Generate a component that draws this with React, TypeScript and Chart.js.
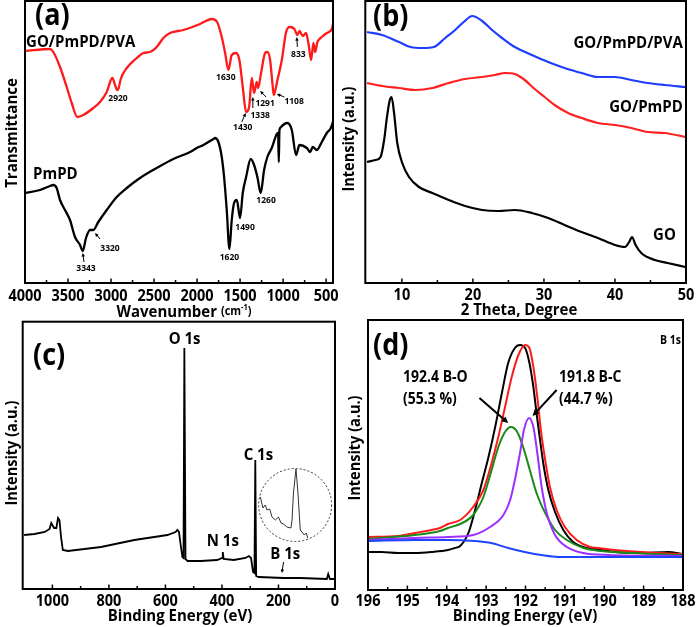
import React, { useEffect, useRef } from "react";
import { Chart, registerables } from "chart.js";
Chart.register(...registerables);

const FONT = "'Open Sans', 'Noto Sans', sans-serif";
const STRETCH = 1.1; // glyphs of the reference are a little taller than the substitute font

// ---------- (a) FTIR : [wavenumber, transmittance a.u.] ----------
const ftirPva: [number, number][] = [
  [4000, 232], [3709, 234], [3671, 231], [3593, 216], [3515, 196], [3457, 180], [3392, 166], [3322, 168],
  [3206, 175], [3128, 181], [3050, 191], [2985, 205], [2953, 198], [2930, 193], [2911, 195], [2887, 204],
  [2817, 215], [2701, 225], [2624, 230], [2547, 231], [2469, 236], [2392, 245], [2314, 250], [2159, 253],
  [1965, 259], [1829, 264], [1767, 261], [1713, 246], [1674, 230], [1636, 213], [1597, 228], [1547, 230],
  [1508, 223], [1469, 196], [1430, 171], [1395, 176], [1364, 205], [1338, 190], [1306, 201], [1291, 195],
  [1256, 210], [1209, 230], [1183, 231], [1151, 223], [1120, 196], [1108, 188], [1066, 203], [1015, 223],
  [965, 251], [919, 256], [869, 254], [833, 248], [810, 252], [771, 247], [733, 250], [706, 240],
  [674, 223], [648, 240], [628, 231], [601, 241], [550, 246], [492, 250], [434, 254], [403, 266],
];
const ftirPmpd: [number, number][] = [
  [4000, 90], [3826, 93], [3709, 97], [3671, 98], [3632, 95], [3593, 83], [3535, 73], [3477, 63],
  [3419, 46], [3360, 38], [3329, 32], [3291, 45], [3244, 53], [3206, 53], [3148, 61], [3050, 73],
  [2934, 86], [2817, 95], [2663, 105], [2469, 115], [2276, 124], [2081, 131], [2003, 135], [1927, 138],
  [1810, 144], [1791, 145], [1752, 141], [1713, 126], [1686, 106], [1655, 73], [1624, 34], [1597, 63],
  [1570, 80], [1538, 83], [1500, 65], [1469, 90], [1430, 106], [1376, 124], [1337, 118], [1299, 106],
  [1260, 90], [1221, 113], [1183, 126], [1132, 135], [1074, 149], [1058, 150], [1050, 121], [1043, 152],
  [1035, 155], [950, 160], [899, 153], [849, 128], [810, 138], [724, 135], [686, 131], [655, 136],
  [608, 133], [550, 141], [492, 150], [445, 155], [407, 165],
];
const ftirTickLabels = [4000, 3500, 3000, 2500, 2000, 1500, 1000, 500];
const ftirMinorTicks = [3750, 3250, 2750, 2250, 1750, 1250, 750];
// peak annotations: [text, wavenumber, y]
const ftirPeakTexts: [string, number, number][] = [
  ["2920", 2919, 185], ["1630", 1666, 206], ["1430", 1469, 156], ["1338", 1267, 168],
  ["1291", 1209, 180], ["1108", 872, 182], ["833", 822, 229], ["3343", 3291, 15],
  ["3320", 3012, 35], ["1620", 1624, 26], ["1490", 1442, 56], ["1260", 1198, 83],
];
// arrows: [x1, y1, x2, y2]
const ftirArrows: [number, number, number, number][] = [
  [1481, 161, 1434, 170], [1352, 175, 1352, 186], [1198, 186, 1267, 192], [985, 186, 1073, 189],
  [834, 236, 841, 246], [3314, 21, 3329, 30], [3128, 44, 3186, 50],
];

// ---------- (b) XRD : [2theta, intensity] ----------
const xrdPva: [number, number][] = [
  [5.1, 251], [7.2, 248], [9.6, 241], [11.2, 236], [12.9, 235], [14.5, 236], [16.1, 245], [17.5, 253],
  [18.7, 261], [19.9, 267], [21.3, 262], [22.7, 253], [24.1, 245], [25.9, 236], [28.3, 228], [30.6, 221],
  [32.9, 215], [35.3, 210], [37.6, 206], [40, 206], [42.3, 203], [44.6, 200], [47, 198], [49.9, 196],
];
const xrdPmpd: [number, number][] = [
  [5.1, 200], [7.2, 197], [9.6, 195], [11.9, 193], [14.3, 195], [16.6, 200], [18.9, 204], [21.3, 206],
  [23.1, 208], [24.5, 210], [25.9, 209], [27.3, 203], [28.7, 194], [30.1, 186], [31.5, 178], [33.4, 170],
  [35.3, 165], [37.6, 160], [40, 158], [42.3, 155], [44.6, 151], [47, 150], [49.9, 146],
];
const xrdGo: [number, number][] = [
  [5.1, 121], [6.3, 123], [7.0, 126], [7.5, 143], [7.9, 166], [8.3, 183], [8.55, 186], [8.9, 170],
  [9.35, 140], [10.05, 120], [11, 106], [12.4, 96], [14.3, 90], [16.6, 83], [18.9, 77], [21.3, 73],
  [23.6, 72], [25.9, 73], [28.3, 70], [30.6, 65], [32.9, 58], [35.3, 51], [37.6, 45], [40, 38],
  [41.4, 36], [42, 41], [42.4, 46], [42.9, 38], [43.7, 30], [45.6, 23], [47.4, 20], [49.9, 16],
];
const xrdTickLabels = [10, 20, 30, 40, 50];
const xrdMinorTicks = [15, 25, 35, 45];
const xrdSeriesTexts: [string, number, number][] = [
  ["GO/PmPD/PVA", 49.56, 240], ["GO/PmPD", 49.56, 176], ["GO", 48.58, 48],
];

// ---------- (c) XPS survey : [binding energy, intensity] ----------
const survey: [number, number][] = [
  [1100, 54], [1063, 55], [1027, 57], [1010, 60], [1004, 66], [994, 61], [986, 61], [980, 71],
  [975, 69], [969, 51], [963, 39], [945, 38], [828, 42], [710, 49], [593, 54], [564, 57],
  [558, 59], [552, 57], [546, 44], [540, 32], [536, 31], [533, 241], [529, 30], [522, 28],
  [475, 28], [417, 29], [399, 31], [397, 37], [394, 30], [358, 29], [317, 31], [305, 33],
  [297, 31], [290, 17], [285, 16], [282, 129], [279, 13], [270, 12], [182, 11], [123, 11],
  [29, 10], [24, 15], [18, 10], [0, 10],
];
const surveyInset: [number, number][] = [
  [264, 92], [255, 81], [247, 84], [241, 79], [231, 80], [223, 72], [211, 69], [200, 72],
  [191, 66], [182, 65], [170, 62], [156, 61], [152, 69], [147, 96], [138, 120], [131, 96],
  [123, 59], [117, 57], [109, 54], [102, 56], [96, 51],
];
const surveyTickLabels = [1000, 800, 600, 400, 200, 0];
const surveyMinorTicks = [900, 700, 500, 300, 100];
const surveyPeakTexts: [string, number, number][] = [
  ["O 1s", 532, 250], ["C 1s", 271, 134], ["N 1s", 397, 48], ["B 1s", 176, 35],
];
const surveyArrows: [number, number, number, number][] = [[182, 27, 188, 16]];

// ---------- (d) B 1s : [binding energy, intensity] ----------
const b1sRaw: [number, number][] = [
  [196, 38], [195.66, 38], [195.24, 37], [194.81, 37], [194.39, 38], [193.97, 40], [193.8, 42], [193.66, 44],
  [193.45, 57], [193.28, 80], [193.11, 107], [192.94, 133], [192.77, 163], [192.6, 197], [192.44, 227],
  [192.27, 242], [192.14, 245], [192.01, 242], [191.9, 227], [191.8, 203], [191.72, 177], [191.63, 150],
  [191.55, 127], [191.42, 100], [191.25, 78], [191.04, 60], [190.79, 48], [190.45, 42], [190.24, 41],
  [189.73, 38], [189.06, 37], [188.38, 38], [188, 36],
];
const b1sFit: [number, number][] = [
  [196, 53], [195.24, 54], [194.81, 57], [194.39, 60], [194.17, 62], [193.97, 66], [193.66, 70], [193.33, 83],
  [193.07, 100], [192.86, 127], [192.69, 153], [192.52, 183], [192.35, 213], [192.18, 235], [192.01, 245],
  [191.9, 242], [191.8, 223], [191.7, 193], [191.61, 160], [191.5, 130], [191.38, 103], [191.21, 80],
  [191, 63], [190.7, 50], [190.36, 43], [190.16, 42], [189.73, 40], [189.06, 38], [188, 36],
];
const b1sBO: [number, number][] = [
  [196, 51], [194.81, 55], [194.17, 59], [193.97, 62], [193.66, 66], [193.33, 75], [193.07, 93], [192.86, 120],
  [192.69, 143], [192.52, 158], [192.37, 163], [192.21, 158], [192.06, 143], [191.89, 120], [191.72, 97],
  [191.5, 77], [191.25, 60], [190.95, 50], [190.53, 42], [190.07, 39], [189.31, 37], [188, 35],
];
const b1sBC: [number, number][] = [
  [196, 50], [194.81, 52], [193.97, 53], [193.33, 55], [192.9, 63], [192.56, 75], [192.39, 90], [192.27, 110],
  [192.14, 137], [192.04, 160], [191.91, 172], [191.8, 163], [191.7, 137], [191.59, 103], [191.46, 77],
  [191.25, 55], [190.95, 43], [190.53, 37], [189.9, 35], [188, 34],
];
const b1sBackground: [number, number][] = [
  [196, 49], [194.81, 50], [193.97, 50], [193.29, 49], [192.87, 47], [192.44, 42], [192.02, 38],
  [191.6, 35], [191.17, 33], [190.58, 33], [188, 33],
];
const b1sTickLabels = [196, 195, 194, 193, 192, 191, 190, 189, 188];
const b1sMinorTicks = [195.5, 194.5, 193.5, 192.5, 191.5, 190.5, 189.5, 188.5];
const b1sTexts: [string, number, number][] = [
  ["192.4 B-O", 195.11, 212], ["(55.3 %)", 195.11, 190], ["191.8 B-C", 191.15, 212], ["(44.7 %)", 191.15, 190],
];
const b1sArrows: [number, number, number, number][] = [
  [193.17, 192, 192.44, 167], [191.21, 200, 191.82, 174],
];

// ---------- drawing helpers ----------
interface Part { t: string; size: number; dy?: number }
interface Label { parts: Part[]; x: number; y: number; align?: "left" | "center" | "right"; data?: boolean; rot?: boolean; color?: string }

function txt(t: string, size: number, x: number, y: number, extra: Partial<Label> = {}): Label {
  return { parts: [{ t, size }], x, y, ...extra };
}

function drawLabel(ctx: CanvasRenderingContext2D, chart: any, L: Label) {
  let x = L.x, y = L.y;
  if (L.data) {
    x = chart.scales.x.getPixelForValue(L.x);
    y = chart.scales.y.getPixelForValue(L.y);
  }
  ctx.save();
  ctx.translate(x, y);
  if (L.rot) ctx.rotate(-Math.PI / 2);
  ctx.scale(1, STRETCH);
  const widths = L.parts.map((p) => {
    ctx.font = `bold ${p.size}px ${FONT}`;
    return ctx.measureText(p.t).width;
  });
  const total = widths.reduce((a, b) => a + b, 0);
  let cx = L.align === "left" ? 0 : L.align === "right" ? -total : -total / 2;
  ctx.textBaseline = "middle";
  ctx.textAlign = "left";
  ctx.fillStyle = L.color || "#000";
  L.parts.forEach((p, i) => {
    ctx.font = `bold ${p.size}px ${FONT}`;
    ctx.fillText(p.t, cx, p.dy || 0);
    cx += widths[i];
  });
  ctx.restore();
}

function drawArrow(ctx: CanvasRenderingContext2D, chart: any, a: number[], width: number, head: number) {
  const xs = chart.scales.x, ys = chart.scales.y;
  const x1 = xs.getPixelForValue(a[0]), y1 = ys.getPixelForValue(a[1]);
  const x2 = xs.getPixelForValue(a[2]), y2 = ys.getPixelForValue(a[3]);
  const ang = Math.atan2(y2 - y1, x2 - x1);
  ctx.save();
  ctx.strokeStyle = "#000";
  ctx.fillStyle = "#000";
  ctx.lineWidth = width;
  ctx.beginPath();
  ctx.moveTo(x1, y1);
  ctx.lineTo(x2 - Math.cos(ang) * head * 0.6, y2 - Math.sin(ang) * head * 0.6);
  ctx.stroke();
  ctx.beginPath();
  ctx.moveTo(x2, y2);
  ctx.lineTo(x2 - Math.cos(ang - 0.45) * head, y2 - Math.sin(ang - 0.45) * head);
  ctx.lineTo(x2 - Math.cos(ang + 0.45) * head, y2 - Math.sin(ang + 0.45) * head);
  ctx.closePath();
  ctx.fill();
  ctx.restore();
}

interface Series { pts: [number, number][]; color: string; width: number; tension?: number }
interface PanelSpec {
  left: number; top: number; w: number; h: number;
  pad: { left: number; top: number; right: number; bottom: number };
  yW: number; xH: number; tickOffset: number;
  xMin: number; xMax: number; reverse: boolean; yMax: number;
  major: number[]; minor: number[];
  series: Series[];
  labels: Label[];
  arrows: number[][]; arrowW: number; arrowHead: number;
  circle?: { x: number; y: number; rx: number };
}

const TICK_SIZE = 14.5;

function decorPlugin(p: PanelSpec) {
  return {
    id: "decor",
    afterDatasetsDraw(chart: any) {
      const ctx: CanvasRenderingContext2D = chart.ctx;
      const { left, top, right, bottom } = chart.chartArea;
      const xs = chart.scales.x, ys = chart.scales.y;
      ctx.save();
      ctx.strokeStyle = "#000";
      ctx.lineWidth = 2;
      ctx.strokeRect(left, top, right - left, bottom - top);
      ctx.lineWidth = 1.5;
      const tick = (v: number, len: number) => {
        const px = xs.getPixelForValue(v);
        ctx.beginPath();
        ctx.moveTo(px, bottom);
        ctx.lineTo(px, bottom - len);
        ctx.stroke();
      };
      p.major.forEach((v) => tick(v, 4.5));
      p.minor.forEach((v) => tick(v, 3));
      if (p.circle) {
        const cx = xs.getPixelForValue(p.circle.x);
        const cy = ys.getPixelForValue(p.circle.y);
        const r = Math.abs(xs.getPixelForValue(p.circle.x + p.circle.rx) - cx);
        ctx.strokeStyle = "#333";
        ctx.lineWidth = 1;
        ctx.setLineDash([2, 2]);
        ctx.beginPath();
        ctx.arc(cx, cy, r, 0, Math.PI * 2);
        ctx.stroke();
        ctx.setLineDash([]);
      }
      ctx.restore();
      // tick labels (taken from the scale's own ticks)
      xs.ticks.forEach((t: any) => {
        drawLabel(ctx, chart, txt(String(t.value), TICK_SIZE, xs.getPixelForValue(t.value), bottom + p.tickOffset));
      });
      p.arrows.forEach((a) => drawArrow(ctx, chart, a, p.arrowW, p.arrowHead));
      p.labels.forEach((L) => drawLabel(ctx, chart, L));
    },
  };
}

function makeConfig(p: PanelSpec): any {
  return {
    type: "line",
    data: {
      datasets: p.series.map((s) => ({
        data: s.pts.map(([x, y]) => ({ x, y })),
        borderColor: s.color,
        borderWidth: s.width,
        pointRadius: 0,
        fill: false,
        tension: s.tension || 0,
        cubicInterpolationMode: s.tension ? "monotone" : "default",
      })),
    },
    options: {
      animation: false,
      responsive: true,
      maintainAspectRatio: false,
      events: [],
      layout: { padding: p.pad },
      plugins: { legend: { display: false }, tooltip: { enabled: false } },
      scales: {
        x: {
          type: "linear",
          min: p.xMin,
          max: p.xMax,
          reverse: p.reverse,
          grid: { display: false, drawTicks: false },
          border: { display: false },
          afterBuildTicks: (s: any) => {
            s.ticks = p.major.map((v) => ({ value: v }));
          },
          afterFit: (s: any) => {
            s.height = p.xH;
            s.paddingLeft = 0;
            s.paddingRight = 0;
          },
          ticks: { display: false, autoSkip: false },
        },
        y: {
          type: "linear",
          min: 0,
          max: p.yMax,
          grid: { display: false, drawTicks: false },
          border: { display: false },
          ticks: { display: false },
          afterFit: (s: any) => {
            s.width = p.yW;
          },
        },
      },
    },
    plugins: [decorPlugin(p)],
  };
}

const panelA: PanelSpec = {
  left: 0, top: 0, w: 338, h: 322,
  pad: { left: 0, top: 1, right: 5, bottom: 0 },
  yW: 25, xH: 39, tickOffset: 13,
  xMin: 420, xMax: 4000, reverse: true, yMax: 282,
  major: ftirTickLabels, minor: ftirMinorTicks,
  series: [
    { pts: ftirPva, color: "#ff1a1a", width: 2.3, tension: 0.25 },
    { pts: ftirPmpd, color: "#000000", width: 2.3, tension: 0.25 },
  ],
  labels: [
    txt("(a)", 27, 35, 17, { align: "left" }),
    txt("Transmittance", 15, 12, 133, { rot: true }),
    { parts: [{ t: "Wavenumber ", size: 15 }, { t: "(cm", size: 11 }, { t: "-1", size: 7.5, dy: -4 }, { t: ")", size: 11 }], x: 184, y: 312 },
    txt("GO/PmPD/PVA", 15, 3988, 241, { align: "left", data: true }),
    txt("PmPD", 15, 3907, 109, { align: "left", data: true }),
    ...ftirPeakTexts.map(([t, x, y]) => txt(t, 8.5, x, y, { data: true })),
  ],
  arrows: ftirArrows, arrowW: 1, arrowHead: 4,
};

const panelB: PanelSpec = {
  left: 338, top: 0, w: 360, h: 322,
  pad: { left: 0, top: 1, right: 12, bottom: 0 },
  yW: 27.3, xH: 39, tickOffset: 12,
  xMin: 4.85, xMax: 50, reverse: false, yMax: 282,
  major: xrdTickLabels, minor: xrdMinorTicks,
  series: [
    { pts: xrdPva, color: "#1f3dff", width: 2.2, tension: 0.3 },
    { pts: xrdPmpd, color: "#ff2020", width: 2.2, tension: 0.3 },
    { pts: xrdGo, color: "#000000", width: 2.2, tension: 0.2 },
  ],
  labels: [
    txt("(b)", 27, 35, 17.5, { align: "left" }),
    txt("Intensity (a.u.)", 14.5, 11, 139, { rot: true }),
    txt("2 Theta, Degree", 15, 181, 310),
    ...xrdSeriesTexts.map(([t, x, y]) => txt(t, 15, x, y, { align: "right", data: true })),
  ],
  arrows: [], arrowW: 1, arrowHead: 4,
};

const panelC: PanelSpec = {
  left: 0, top: 318, w: 340, h: 309,
  pad: { left: 0, top: 3.7, right: 5, bottom: 0 },
  yW: 22.7, xH: 38, tickOffset: 12,
  xMin: 0, xMax: 1105, reverse: true, yMax: 267.3,
  major: surveyTickLabels, minor: surveyMinorTicks,
  series: [
    { pts: survey, color: "#000000", width: 1.8 },
    { pts: surveyInset, color: "#333333", width: 1 },
  ],
  labels: [
    txt("(c)", 27, 33, 39, { align: "left" }),
    txt("Intensity (a.u.)", 14.5, 12, 135, { rot: true }),
    txt("Binding Energy (eV)", 15, 180, 298),
    ...surveyPeakTexts.map(([t, x, y]) => txt(t, 15, x, y, { data: true })),
  ],
  arrows: surveyArrows, arrowW: 1, arrowHead: 4,
  circle: { x: 141, y: 84, rx: 129 },
};

const panelD: PanelSpec = {
  left: 340, top: 318, w: 358, h: 309,
  pad: { left: 0, top: 2, right: 15, bottom: 0 },
  yW: 28, xH: 37, tickOffset: 11,
  xMin: 188, xMax: 196, reverse: true, yMax: 270,
  major: b1sTickLabels, minor: b1sMinorTicks,
  series: [
    { pts: b1sBackground, color: "#1f45ff", width: 2, tension: 0.4 },
    { pts: b1sBC, color: "#9b30ff", width: 2, tension: 0.4 },
    { pts: b1sBO, color: "#1a8a1a", width: 2, tension: 0.4 },
    { pts: b1sFit, color: "#ff1a1a", width: 2, tension: 0.4 },
    { pts: b1sRaw, color: "#000000", width: 2, tension: 0.4 },
  ],
  labels: [
    txt("(d)", 27, 33, 28.5, { align: "left" }),
    txt("Intensity (a.u.)", 14.5, 15, 130, { rot: true }),
    txt("Binding Energy (eV)", 15, 185, 298),
    txt("B 1s", 10.5, 188.05, 249, { align: "right", data: true }),
    ...b1sTexts.map(([t, x, y]) => txt(t, 14, x, y, { align: "left", data: true })),
  ],
  arrows: b1sArrows, arrowW: 2, arrowHead: 7,
};

function Panel({ spec }: { spec: PanelSpec }) {
  const ref = useRef<HTMLCanvasElement>(null);
  useEffect(() => {
    const chart = new Chart(ref.current as HTMLCanvasElement, makeConfig(spec));
    return () => chart.destroy();
  }, [spec]);
  return (
    <div style={{ position: "absolute", left: spec.left, top: spec.top, width: spec.w, height: spec.h }}>
      <canvas ref={ref} />
    </div>
  );
}

export default function App() {
  return (
    <div style={{ position: "absolute", left: 0, top: 0, width: 698, height: 627, background: "#fff", overflow: "hidden" }}>
      <Panel spec={panelA} />
      <Panel spec={panelB} />
      <Panel spec={panelC} />
      <Panel spec={panelD} />
    </div>
  );
}
